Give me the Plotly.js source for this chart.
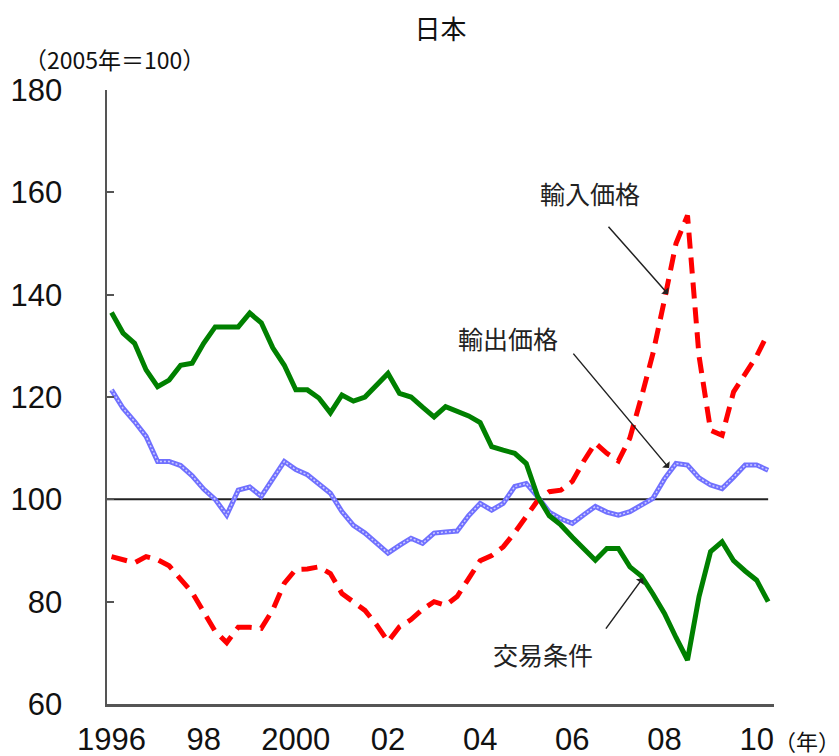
<!DOCTYPE html>
<html>
<head>
<meta charset="utf-8">
<script src="https://cdn.plot.ly/plotly-3.0.1.min.js"></script>
<style>
html,body{margin:0;padding:0;background:#fff;}
#chart{width:839px;height:756px;}
</style>
</head>
<body>
<div id="chart"></div>
<script>
// Quarterly periods 1996Q1 .. 2010Q2
var startYear = 1996;
var nQuarters = 58;

// 交易条件 (terms of trade)
var termsOfTrade = [136.5,132.5,130.5,125.3,122.0,123.3,126.2,126.6,130.5,133.7,133.7,133.7,136.4,134.5,129.6,126.2,121.4,121.4,119.8,116.9,
  120.4,119.2,120.0,122.3,124.6,120.7,120.0,118.0,116.1,118.1,117.3,116.3,115.0,110.3,109.6,109.0,107.0,100.5,96.8,95.0,
  92.6,90.2,88.1,90.4,90.4,86.8,85.0,81.5,77.7,73.0,68.6,81.0,89.8,91.7,88.0,86.0,84.2,80.0];

// 輸出価格 (export prices)
var exportPrice = [121.4,117.8,115.2,112.3,107.4,107.4,106.6,104.6,102.0,100.0,96.9,101.8,102.4,100.6,104.0,107.4,105.8,104.8,103.0,101.2,
  97.6,94.9,93.4,91.5,89.5,91.0,92.4,91.4,93.4,93.6,93.8,96.8,99.2,97.9,99.2,102.5,103.1,100.5,97.5,96.2,
  95.3,97.0,98.6,97.5,96.9,97.6,98.8,100.2,104.0,107.0,106.7,104.2,102.8,102.1,104.3,106.7,106.7,105.7];

// 輸入価格 (import prices)
var importPrice = [88.8,88.3,87.6,88.8,88.2,87.0,84.5,81.8,78.0,74.2,72.0,75.0,75.0,74.8,78.4,83.6,86.3,86.4,86.8,85.5,
  81.6,80.0,78.3,75.5,72.2,75.1,76.5,78.5,80.0,79.3,81.0,84.5,88.0,89.0,90.7,93.5,96.5,99.8,101.5,101.8,
  103.5,107.5,111.0,109.0,107.5,112.0,120.0,128.5,139.0,150.0,155.5,128.0,113.5,112.5,121.0,124.5,128.0,132.5];

var tickYears = [1996,1998,2000,2002,2004,2006,2008,2010];
var tickLabels = ['1996','98','2000','02','04','06','08','10'];
var yTicks = [60,80,100,120,140,160,180];
var baseValue = 100;

var xq = [];
for (var i = 0; i < nQuarters; i++) { xq.push(startYear + i / 4); }
var xLast = xq[xq.length - 1];

var numFont = '"Liberation Sans", Arial, sans-serif';
var jpFont = '"Noto Sans CJK JP", "Noto Sans", sans-serif';

var traces = [
  {x: xq, y: exportPrice, mode: 'lines', line: {color: 'rgb(112,112,255)', width: 5}, hoverinfo: 'skip'},
  {x: xq, y: exportPrice, mode: 'lines', line: {color: 'rgb(205,205,255)', width: 1.5, dash: '2px,2px'}, hoverinfo: 'skip'},
  {x: xq, y: importPrice, mode: 'lines', line: {color: '#ff0000', width: 5, dash: '16px,9px'}, hoverinfo: 'skip'},
  {x: xq, y: termsOfTrade, mode: 'lines', line: {color: '#008000', width: 5}, hoverinfo: 'skip'}
];

function px2x(p) { return startYear + (p - 111.5) / 46.08; }
function px2y(p) { return 60 + (704 - p) / 5.117; }

var layout = {
  width: 839, height: 756,
  margin: {l: 107, r: 65, t: 90, b: 52},
  paper_bgcolor: '#fff', plot_bgcolor: '#fff',
  showlegend: false,
  title: {text: '日本', font: {family: jpFont, size: 26, color: '#111'}, x: 0.525, xanchor: 'center', y: 0.96, yanchor: 'middle'},
  xaxis: {
    range: [1995.902, 2010.377],
    tickvals: tickYears, ticktext: tickLabels,
    showgrid: false, zeroline: false, showline: true, linecolor: '#555', linewidth: 2.5,
    ticks: '', ticklabelstandoff: 6,
    tickfont: {family: numFont, size: 31, color: '#111'}
  },
  yaxis: {
    range: [60, 180], tickvals: yTicks,
    showgrid: false, zeroline: false, showline: true, linecolor: '#555', linewidth: 2.5,
    ticks: 'inside', ticklen: 7, tickcolor: '#555', tickwidth: 2,
    ticklabelstandoff: 36,
    tickfont: {family: numFont, size: 31, color: '#111'}
  },
  shapes: [
    {type: 'line', xref: 'x', yref: 'y', x0: 1995.902, x1: xLast, y0: baseValue, y1: baseValue, line: {color: '#222', width: 2}, layer: 'below'}
  ],
  annotations: [
    {xref: 'paper', yref: 'paper', x: -0.128, y: 1.05, xanchor: 'left', yanchor: 'middle', text: '（2005年＝100）', showarrow: false, font: {family: jpFont, size: 23, color: '#111'}},
    {xref: 'paper', yref: 'paper', x: 1.05, y: -0.058, xanchor: 'center', yanchor: 'middle', text: '（年）', showarrow: false, font: {family: jpFont, size: 22, color: '#111'}},
    {xref: 'x', yref: 'y', x: 2008.08, y: 140.1, ax: -61, ay: -69, text: '', showarrow: true, arrowhead: 1, arrowsize: 1.1, arrowwidth: 1.5, arrowcolor: '#222', standoff: 0},
    {xref: 'x', yref: 'y', x: 2008.1, y: 106.1, ax: -97, ay: -116, text: '', showarrow: true, arrowhead: 1, arrowsize: 1.1, arrowwidth: 1.5, arrowcolor: '#222', standoff: 0},
    {xref: 'x', yref: 'y', x: 2007.53, y: 84.6, ax: -38, ay: 52, text: '', showarrow: true, arrowhead: 1, arrowsize: 1.1, arrowwidth: 1.5, arrowcolor: '#222', standoff: 0},
    {xref: 'x', yref: 'y', x: px2x(590), y: px2y(193), text: '輸入価格', showarrow: false, font: {family: jpFont, size: 25, color: '#222'}},
    {xref: 'x', yref: 'y', x: px2x(508), y: px2y(338), text: '輸出価格', showarrow: false, font: {family: jpFont, size: 25, color: '#222'}},
    {xref: 'x', yref: 'y', x: px2x(543), y: px2y(654), text: '交易条件', showarrow: false, font: {family: jpFont, size: 25, color: '#222'}}
  ]
};

Plotly.newPlot('chart', traces, layout, {staticPlot: true, displayModeBar: false});
</script>
</body>
</html>
